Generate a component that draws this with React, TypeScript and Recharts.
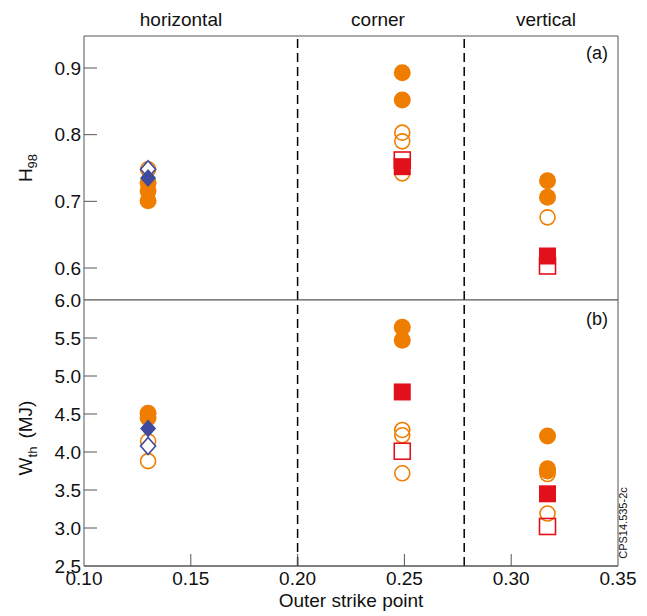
import { ScatterChart, Scatter, XAxis, YAxis, ReferenceLine } from "recharts";

const ORANGE = "#ef7d00";
const RED = "#e2101b";
const BLUE = "#3e4a9e";
const FRAME = "#555";
const FONT = "'Liberation Sans', Arial, Helvetica, sans-serif";

const xTicks = [0.1, 0.15, 0.2, 0.25, 0.3, 0.35];
const regionEdges = [0.2, 0.278];
const regionNames = ["horizontal", "corner", "vertical"];

// H98 panel (a)
const h98Ticks = [0.6, 0.7, 0.8, 0.9];
const h98OpenCircle = [
  { x: 0.13, y: 0.748 },
  { x: 0.249, y: 0.803 },
  { x: 0.249, y: 0.79 },
  { x: 0.249, y: 0.742 },
  { x: 0.317, y: 0.676 },
];
const h98FilledCircle = [
  { x: 0.13, y: 0.728 },
  { x: 0.13, y: 0.716 },
  { x: 0.13, y: 0.701 },
  { x: 0.249, y: 0.893 },
  { x: 0.249, y: 0.852 },
  { x: 0.317, y: 0.731 },
  { x: 0.317, y: 0.706 },
];
const h98OpenSquare = [
  { x: 0.249, y: 0.762 },
  { x: 0.317, y: 0.603 },
];
const h98FilledSquare = [
  { x: 0.249, y: 0.752 },
  { x: 0.317, y: 0.618 },
];
const h98OpenDiamond = [{ x: 0.13, y: 0.748 }];
const h98FilledDiamond = [{ x: 0.13, y: 0.735 }];

// Wth panel (b)
const wthTicks = [2.5, 3.0, 3.5, 4.0, 4.5, 5.0, 5.5, 6.0];
const wthOpenCircle = [
  { x: 0.13, y: 4.14 },
  { x: 0.13, y: 3.88 },
  { x: 0.249, y: 4.29 },
  { x: 0.249, y: 4.22 },
  { x: 0.249, y: 3.72 },
  { x: 0.317, y: 3.71 },
  { x: 0.317, y: 3.19 },
];
const wthFilledCircle = [
  { x: 0.13, y: 4.51 },
  { x: 0.13, y: 4.45 },
  { x: 0.249, y: 5.64 },
  { x: 0.249, y: 5.47 },
  { x: 0.317, y: 4.21 },
  { x: 0.317, y: 3.78 },
  { x: 0.317, y: 3.75 },
];
const wthOpenSquare = [
  { x: 0.249, y: 4.01 },
  { x: 0.317, y: 3.02 },
];
const wthFilledSquare = [
  { x: 0.249, y: 4.79 },
  { x: 0.317, y: 3.45 },
];
const wthOpenDiamond = [{ x: 0.13, y: 4.08 }];
const wthFilledDiamond = [{ x: 0.13, y: 4.31 }];

const openCircle = (p: any) => (
  <circle cx={p.cx} cy={p.cy} r={7.5} fill="none" stroke={ORANGE} strokeWidth={1.6} />
);
const filledCircle = (p: any) => <circle cx={p.cx} cy={p.cy} r={8.5} fill={ORANGE} />;
const openSquare = (p: any) => (
  <rect x={p.cx - 8} y={p.cy - 8} width={16} height={16} fill="none" stroke={RED} strokeWidth={1.6} />
);
const filledSquare = (p: any) => (
  <rect x={p.cx - 8.5} y={p.cy - 8.5} width={17} height={17} fill={RED} />
);
const diamondPath = (cx: number, cy: number, w: number, h: number) =>
  `M${cx},${cy - h}L${cx + w},${cy}L${cx},${cy + h}L${cx - w},${cy}Z`;
const openDiamond = (p: any) => (
  <path d={diamondPath(p.cx, p.cy, 7.5, 8.5)} fill="#fff" stroke={BLUE} strokeWidth={1.6} />
);
const filledDiamond = (p: any) => <path d={diamondPath(p.cx, p.cy, 8, 9)} fill={BLUE} />;

function YTick(props: any) {
  const { x, y, payload, edges } = props;
  const inner = !edges.includes(payload.value);
  return (
    <g>
      {inner && <line x1={x} x2={x + 13} y1={y} y2={y} stroke={FRAME} strokeWidth={1} />}
      <text x={x - 3} y={y} dy="0.35em" textAnchor="end" fontSize={19} fill="#111" fontFamily={FONT}>
        {payload.value.toFixed(1)}
      </text>
    </g>
  );
}

function XTick(props: any) {
  const { x, y, payload } = props;
  const inner = payload.value > 0.1 && payload.value < 0.35;
  return (
    <g>
      {inner && <line x1={x} x2={x} y1={y} y2={y - 12} stroke={FRAME} strokeWidth={1} />}
      <text x={x} y={y + 19} textAnchor="middle" fontSize={19} fill="#111" fontFamily={FONT}>
        {payload.value.toFixed(2)}
      </text>
    </g>
  );
}

function Panel({
  height,
  top,
  domain,
  ticks,
  edges,
  showX,
  series,
}: {
  height: number;
  top: number;
  domain: [number, number];
  ticks: number[];
  edges: number[];
  showX: boolean;
  series: any[][];
}) {
  const shapes = [openCircle, filledCircle, openSquare, filledSquare, openDiamond, filledDiamond];
  return (
    <ScatterChart width={647} height={height} margin={{ top, right: 29, bottom: 0, left: 24 }}>
      <XAxis
        type="number"
        dataKey="x"
        domain={[0.1, 0.35]}
        ticks={xTicks}
        hide={!showX}
        height={50}
        tickSize={0}
        tickMargin={0}
        tick={<XTick />}
        axisLine={{ stroke: FRAME }}
        interval={0}
      />
      <YAxis
        type="number"
        dataKey="y"
        domain={domain}
        ticks={ticks}
        width={60}
        tickSize={0}
        tickMargin={0}
        tick={<YTick edges={edges} />}
        axisLine={{ stroke: FRAME }}
        interval={0}
      />
      <ReferenceLine y={domain[1]} stroke={FRAME} />
      <ReferenceLine y={domain[0]} stroke={FRAME} />
      <ReferenceLine x={0.35} stroke={FRAME} />
      {regionEdges.map((e) => (
        <ReferenceLine key={e} x={e} stroke="#000" strokeWidth={1.5} strokeDasharray="9 5" />
      ))}
      {series.map((data, i) => (
        <Scatter key={i} data={data} shape={shapes[i]} isAnimationActive={false} />
      ))}
    </ScatterChart>
  );
}

export default function App() {
  return (
    <div style={{ position: "absolute", left: 0, top: 0, width: 647, height: 616, background: "#fff" }}>
      <div style={{ position: "absolute", left: 0, top: 0 }}>
        <Panel
          height={300}
          top={36}
          domain={[0.552, 0.948]}
          ticks={h98Ticks}
          edges={[]}
          showX={false}
          series={[h98OpenCircle, h98FilledCircle, h98OpenSquare, h98FilledSquare, h98OpenDiamond, h98FilledDiamond]}
        />
      </div>
      <div style={{ position: "absolute", left: 0, top: 284 }}>
        <Panel
          height={332}
          top={16}
          domain={[2.5, 6.0]}
          ticks={wthTicks}
          edges={[2.5, 6.0]}
          showX={true}
          series={[wthOpenCircle, wthFilledCircle, wthOpenSquare, wthFilledSquare, wthOpenDiamond, wthFilledDiamond]}
        />
      </div>
      <svg
        width={647}
        height={616}
        style={{ position: "absolute", left: 0, top: 0, pointerEvents: "none" }}
        fontFamily={FONT}
        fill="#111"
      >
        <text x={181} y={26} fontSize={19} textAnchor="middle">{regionNames[0]}</text>
        <text x={378} y={26} fontSize={19} textAnchor="middle">{regionNames[1]}</text>
        <text x={546} y={26} fontSize={19} textAnchor="middle">{regionNames[2]}</text>
        <text x={608} y={59} fontSize={18} textAnchor="end">(a)</text>
        <text x={608} y={325} fontSize={18} textAnchor="end">(b)</text>
        <text x={32} y={168} fontSize={19} textAnchor="middle" transform="rotate(-90 32 168)">
          H<tspan fontSize={13} dy={5}>98</tspan>
        </text>
        <text x={32} y={438} fontSize={19} textAnchor="middle" transform="rotate(-90 32 438)">
          W<tspan fontSize={13} dy={5}>th</tspan>
          <tspan dy={-5} dx={8}>(MJ)</tspan>
        </text>
        <text x={351} y={607} fontSize={19} textAnchor="middle">Outer strike point</text>
        <text x={627} y={523} fontSize={11} textAnchor="middle" transform="rotate(-90 627 523)">
          CPS14.535-2c
        </text>
      </svg>
    </div>
  );
}
